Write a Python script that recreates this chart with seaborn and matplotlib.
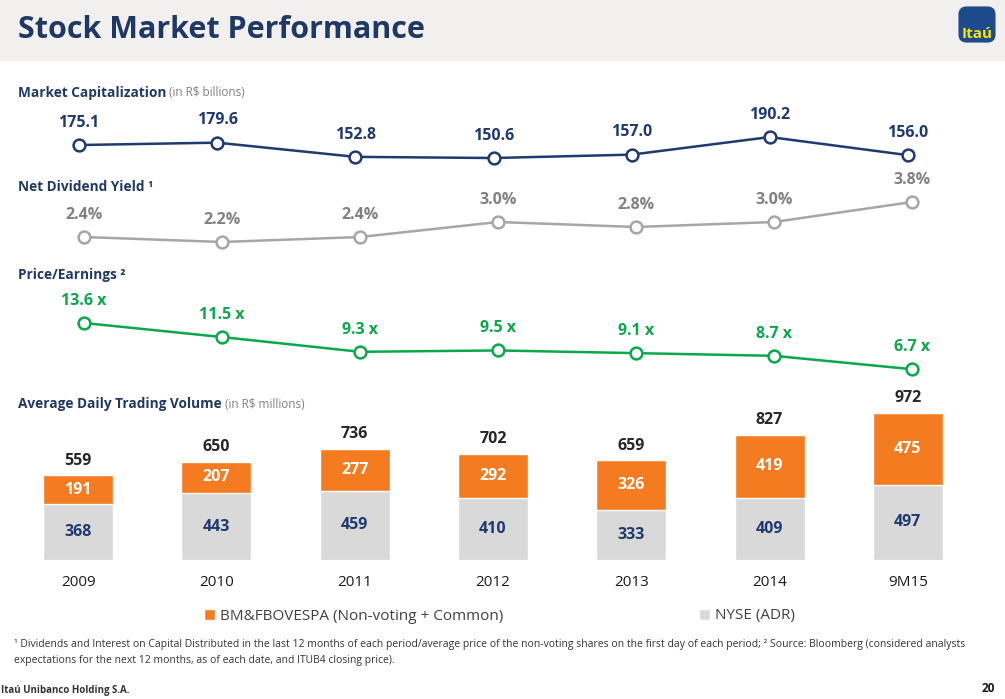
import numpy as np
import seaborn as sns
import matplotlib.pyplot as plt
from matplotlib.patches import Rectangle, FancyBboxPatch

periods = ['2009', '2010', '2011', '2012', '2013', '2014', '9M15']
market_cap = [175.1, 179.6, 152.8, 150.6, 157.0, 190.2, 156.0]
div_yield = [2.4, 2.2, 2.4, 3.0, 2.8, 3.0, 3.8]
pe_ratio = [13.6, 11.5, 9.3, 9.5, 9.1, 8.7, 6.7]
vol_bmf = [191, 207, 277, 292, 326, 419, 475]
vol_nyse = [368, 443, 459, 410, 333, 409, 497]
vol_total = [559, 650, 736, 702, 659, 827, 972]

NAVY = '#1f3a6e'
GRAY_LINE = '#a6a6a6'
GRAY_TXT = '#808080'
GREEN = '#0aa84a'
ORANGE = '#f47b20'
BAR_GRAY = '#d9d9d9'

sns.set_theme(style='white')
plt.rcParams['font.family'] = ['Open Sans', 'DejaVu Sans']

W, H = 1005, 699
fig = plt.figure(figsize=(W / 100, H / 100), dpi=100)


def px_axes(x0, y0, x1, y1):
    # box in pixels, y counted from the top
    ax = fig.add_axes([x0 / W, 1 - y1 / H, (x1 - x0) / W, (y1 - y0) / H])
    ax.set_axis_off()
    ax.patch.set_alpha(0)
    return ax


# header band and logo
fig.patches.append(Rectangle((0, 1 - 60 / H), 1, 60 / H, transform=fig.transFigure,
                             color='#f2f0ef', zorder=-5))
fig.text(18 / W, 1 - 30 / H, 'Stock Market Performance', fontsize=22, fontweight='bold',
         color='#1f3864', va='center', ha='left')
lax = px_axes(958, 6, 996, 43)
lax.set_zorder(5)
lax.add_patch(FancyBboxPatch((0.03, 0.03), 0.94, 0.94, boxstyle='round,pad=0,rounding_size=0.2',
                             transform=lax.transAxes, color='#1c4a8a'))
lax.text(0.5, 0.25, 'Itaú', color='#ffe500', fontsize=11, fontweight='bold',
         ha='center', va='center', transform=lax.transAxes)


def section_title(y, title, sub=None):
    t = fig.text(18 / W, 1 - y / H, title, fontsize=9.8, fontweight='bold', color='#1f3864',
                 va='center', ha='left')
    if sub:
        lax.annotate(' ' + sub, xy=(1, 0.5), xycoords=t, fontsize=8.5, color=GRAY_TXT,
                     va='center', ha='left', annotation_clip=False)


section_title(93, 'Market Capitalization', '(in R$ billions)')
section_title(187, 'Net Dividend Yield ¹')
section_title(275, 'Price/Earnings ²')
section_title(404, 'Average Daily Trading Volume', '(in R$ millions)')


def line_panel(box, ylim, values, color, txt_color, fmt):
    ax = px_axes(*box)
    sns.lineplot(x=periods, y=values, ax=ax, color=color, lw=1.8, sort=False,
                 marker='o', markersize=8.5, markerfacecolor='white',
                 markeredgecolor=color, markeredgewidth=1.8, clip_on=False)
    ax.set_xlim(-0.5, len(periods) - 0.5)
    ax.set_ylim(*ylim)
    ax.set_axis_off()
    for i, v in enumerate(values):
        ax.annotate(fmt.format(v), xy=(i, v), xytext=(0, 16), textcoords='offset points',
                    ha='center', va='center', fontsize=11.5, fontweight='bold', color=txt_color)


line_panel((10, 110, 977, 170), (128.0, 241.2), market_cap, NAVY, NAVY, '{:.1f}')
line_panel((15, 190, 981, 250), (1.88, 4.28), div_yield, GRAY_LINE, GRAY_TXT, '{:.1f}%')
line_panel((15, 300, 981, 380), (5.09, 17.03), pe_ratio, GREEN, GREEN, '{:.1f} x')

# stacked volume bars
bax = px_axes(9, 400, 977, 560)
stack_top = [n + b for n, b in zip(vol_nyse, vol_bmf)]
sns.barplot(x=periods, y=stack_top, ax=bax, color=ORANGE, saturation=1, width=0.506,
            label='BM&FBOVESPA (Non-voting + Common)')
sns.barplot(x=periods, y=vol_nyse, ax=bax, color=BAR_GRAY, saturation=1, width=0.506,
            label='NYSE (ADR)')
bax.set_xlim(-0.5, len(periods) - 0.5)
bax.set_ylim(0, 1058)
bax.set_axis_off()
for i, p in enumerate(periods):
    bax.annotate(str(vol_total[i]), xy=(i, stack_top[i]), xytext=(0, 10.5),
                 textcoords='offset points', ha='center', va='center',
                 fontsize=11.5, fontweight='bold', color='#262626')
    bax.text(i, vol_nyse[i] + vol_bmf[i] / 2, str(vol_bmf[i]), ha='center', va='center',
             fontsize=11.5, fontweight='bold', color='white')
    bax.text(i, vol_nyse[i] / 2, str(vol_nyse[i]), ha='center', va='center',
             fontsize=11.5, fontweight='bold', color='#1f3a6e')
    bax.annotate(p, xy=(i, 0), xytext=(0, -16.5), textcoords='offset points',
                 ha='center', va='center', fontsize=11, color='#1a1a1a')

bax.legend(loc='center left', bbox_to_anchor=(204 / W, 1 - 616 / H),
           bbox_transform=fig.transFigure, ncol=2, frameon=False, fontsize=11,
           handlelength=0.7, handleheight=0.7, handletextpad=0.35, columnspacing=12.8,
           labelcolor='#404040', borderaxespad=0, borderpad=0)

# footnotes
fig.text(14 / W, 1 - 645 / H,
         '¹ Dividends and Interest on Capital Distributed in the last 12 months of each '
         'period/average price of the non-voting shares on the first day of each period; '
         '² Source: Bloomberg (considered analysts',
         fontsize=7.5, color='#333333', va='center', ha='left')
fig.text(14 / W, 1 - 660 / H,
         'expectations for the next 12 months, as of each date, and ITUB4 closing price).',
         fontsize=7.5, color='#333333', va='center', ha='left')
fig.text(1 / W, 1 - 691 / H, 'Itaú Unibanco Holding S.A.', fontsize=7, fontweight='bold',
         color='#333333', va='center', ha='left')
fig.text(995 / W, 1 - 688 / H, '20', fontsize=8.5, fontweight='bold', color='#1a1a1a',
         va='center', ha='right')

fig.savefig('out.png', dpi=100)
